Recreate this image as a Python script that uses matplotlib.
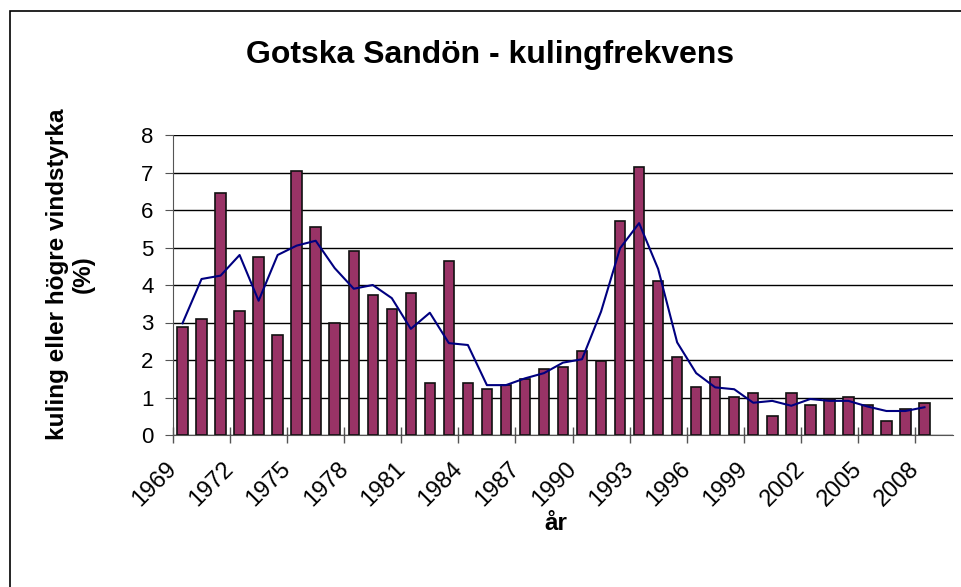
import matplotlib
matplotlib.use("Agg")
import matplotlib.pyplot as plt
import matplotlib.transforms as mtransforms
from matplotlib.patches import Rectangle
import numpy as np

years = list(range(1969, 2010))  # 2009 category present but empty
bar_values = [2.88, 3.10, 6.46, 3.31, 4.75, 2.67, 7.04, 5.54, 2.99, 4.90,
              3.73, 3.35, 3.78, 1.39, 4.64, 1.39, 1.23, 1.33, 1.50, 1.75,
              1.81, 2.23, 1.98, 5.70, 7.14, 4.11, 2.07, 1.28, 1.55, 1.01,
              1.12, 0.52, 1.12, 0.80, 0.95, 1.01, 0.80, 0.37, 0.70, 0.86]
line_values = [2.98, 4.16, 4.25, 4.80, 3.58, 4.80, 5.05, 5.18, 4.45, 3.90,
               4.00, 3.65, 2.83, 3.26, 2.45, 2.40, 1.33, 1.33, 1.51, 1.65,
               1.93, 2.02, 3.29, 4.98, 5.65, 4.43, 2.47, 1.65, 1.27, 1.22,
               0.86, 0.91, 0.78, 0.96, 0.91, 0.91, 0.76, 0.64, 0.64, 0.74]
tick_labels = [str(y) for y in years[0:40:3]]
y_ticks = [0, 1, 2, 3, 4, 5, 6, 7, 8]

title = "Gotska Sandön - kulingfrekvens"
ylabel = "kuling eller högre vindstyrka\n(%)"
xlabel = "år"

plt.rcParams['font.family'] = ['Liberation Sans', 'DejaVu Sans']

W, H = 962, 587
fig = plt.figure(figsize=(W / 100, H / 100), dpi=100)

# figure frame (cut at right and bottom like the reference)
fig.patches.append(Rectangle((10 / W, -0.1), 1.2, (H - 11) / H + 0.1,
                             transform=fig.transFigure, fill=False,
                             edgecolor='black', linewidth=1.2))

left, right, top, bottom = 173, 953, 135, 435
ax = fig.add_axes([left / W, (H - bottom) / H, (right - left) / W, (bottom - top) / H])

x = np.arange(len(bar_values))
ax.bar(x, bar_values, width=0.55, color='#993366', edgecolor='#111111',
       linewidth=1.2, zorder=3)
ax.plot(x, line_values, color='#000080', linewidth=1.5, zorder=4)

ax.set_xlim(-0.5, len(years) - 0.5)
ax.set_ylim(0, 8)
ax.set_yticks(y_ticks)
ax.yaxis.grid(True, color='black', linewidth=1.0, zorder=0)
ax.set_axisbelow(True)

for s in ['top', 'right']:
    ax.spines[s].set_visible(False)
ax.spines['left'].set_color('#555555')
ax.spines['bottom'].set_color('#555555')

# x tick marks at category boundaries every 3 categories
ax.set_xticks(np.arange(-0.5, 40, 3))
ax.set_xticklabels([])
ax.tick_params(axis='x', which='major', direction='inout', length=12,
               color='#555555', width=1)
ax.set_xticks(np.arange(0, 40, 3), minor=True)
ax.set_xticklabels(tick_labels, minor=True, rotation=45, ha='right',
                   va='center', rotation_mode='anchor', fontsize=17)
ax.tick_params(axis='x', which='minor', length=0, pad=22)
offset = mtransforms.ScaledTranslation(-9 / 100, 0, fig.dpi_scale_trans)
for lab in ax.get_xticklabels(minor=True):
    lab.set_transform(lab.get_transform() + offset)
ax.tick_params(axis='y', direction='out', length=6, color='#555555',
               labelsize=16, pad=8)

fig.text(490 / W, 1 - 55 / H, title, ha='center', va='center',
         fontsize=23, fontweight='bold')
fig.text(70 / W, 1 - 274 / H, ylabel, ha='center', va='center',
         rotation=90, fontsize=17.5, fontweight='bold', multialignment='center',
         linespacing=1.15)
fig.text(556 / W, 1 - 524 / H, xlabel, ha='center', va='center',
         fontsize=17.5, fontweight='bold')

fig.savefig('out.png', dpi=100)
